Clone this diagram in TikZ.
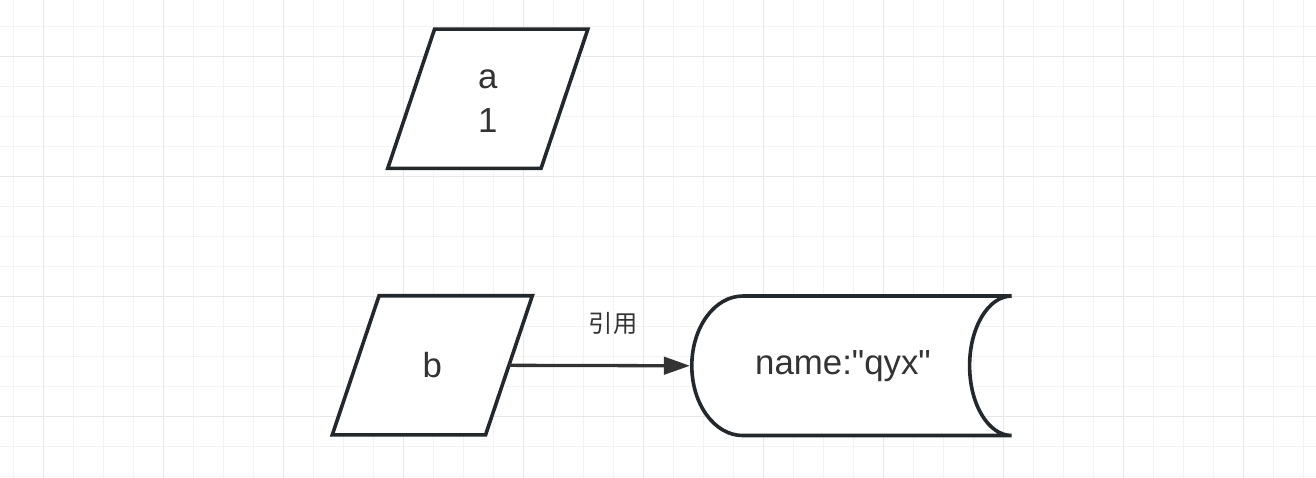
\documentclass[tikz,border=0pt]{standalone}
\usepackage{fontspec}
\newfontfamily\sansfont{Liberation Sans}
\newfontfamily\cjkfont{Noto Sans CJK SC}
\usetikzlibrary{arrows.meta}
\definecolor{gridminor}{HTML}{F3F3F3}
\definecolor{gridmajor}{HTML}{E7E7E7}
\definecolor{inkdark}{HTML}{23282D}
\definecolor{textgray}{HTML}{333333}
\pgfdeclarelayer{back}
\pgfsetlayers{back,main}

\begin{document}
\begin{tikzpicture}[
  varbox/.style={minimum width=6.67cm, minimum height=4.64cm, inner sep=0pt, outer sep=0pt,
    text=textgray, align=center, font=\sansfont\fontsize{33}{42}\selectfont},
  datatext/.style={minimum width=10.08cm, minimum height=4.65cm, inner sep=0pt, outer sep=0pt,
    text=textgray, font=\sansfont\fontsize{33}{42}\selectfont},
  outline/.style={draw=inkdark, fill=white, line width=0.12cm},
  link/.style={draw=textgray, line width=0.11cm, shorten >=0.06cm,
    -{Triangle[length=0.87cm,width=0.58cm]}},
  lbl/.style={text=textgray, font=\cjkfont\fontsize{23}{28}\selectfont}
]
  \useasboundingbox (0,0) rectangle (43.867,15.933);
  \clip (0,0) rectangle (43.867,15.933);

  \node[varbox] (a) at (16.26,12.64) {\vphantom{1}a\\1};
  \node[varbox] (b) at (14.41,3.755) {b};
  \node[datatext] (data) at (28.1,3.74) {name:"qyx"};

  \begin{pgfonlayer}{back}
  \fill[white] (0,0) rectangle (43.867,15.933);
  % background grid
  \draw[step=1cm, gridminor, line width=0.033cm, shift={(0.444,0.044)}] (-1,-1) grid (45,17);
  \draw[step=4cm, gridmajor, line width=0.033cm, shift={(1.444,2.044)}] (-5,-5) grid (45,17);
  \foreach \n in {a,b}
    \draw[outline] ([xshift=1.56cm]\n.north west) -- (\n.north east)
       -- ([xshift=-1.56cm]\n.south east) -- (\n.south west) -- cycle;
  \draw[outline] ([xshift=1.7cm]data.north west) -- ([xshift=0.58cm]data.north east)
     arc[start angle=90, end angle=270, x radius=1.4cm, y radius=2.325cm]
     -- ([xshift=1.7cm]data.south west)
     arc[start angle=270, end angle=90, x radius=1.7cm, y radius=2.325cm] -- cycle;
  \end{pgfonlayer}

  \draw[link] ([xshift=-0.78cm]b.east) -- (data.west);
  \node[lbl] (ref) at (20.44,5.16) {引用};
\end{tikzpicture}
\end{document}
